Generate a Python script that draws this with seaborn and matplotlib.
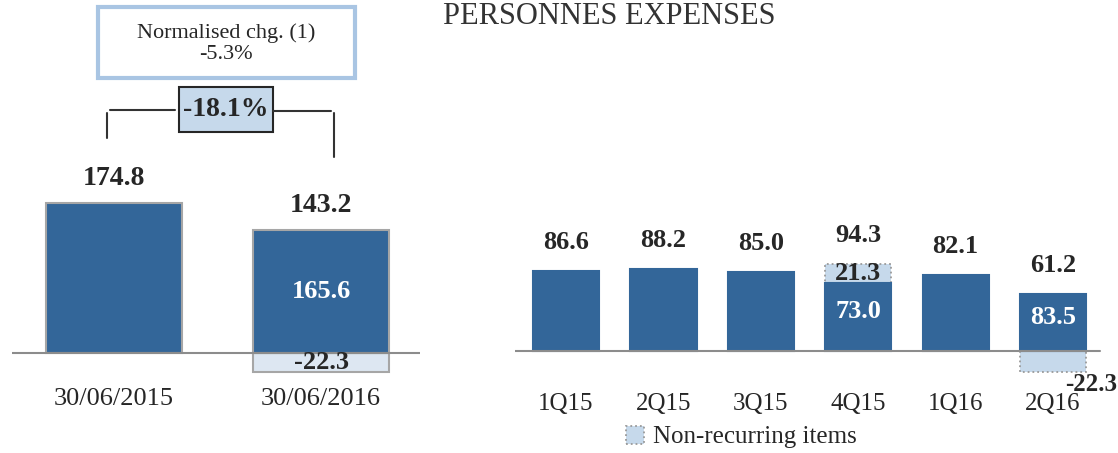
import matplotlib.pyplot as plt
import matplotlib.patches as mpatches
from matplotlib.lines import Line2D
import pandas as pd
import seaborn as sns

# half-year view
periods = ["30/06/2015", "30/06/2016"]
period_total = [174.8, 143.2]
period_recurring = [None, 165.6]
period_nonrec = [None, -22.3]

# quarterly view
quarters = ["1Q15", "2Q15", "3Q15", "4Q15", "1Q16", "2Q16"]
quarter_total = [86.6, 88.2, 85.0, 94.3, 82.1, 61.2]
quarter_recurring = [None, None, None, 73.0, None, 83.5]
quarter_nonrec = [None, None, None, 21.3, None, -22.3]

normalised_chg = "-5.3%"
reported_chg = "-18.1%"

DARK = "#336699"
LIGHT = "#C6D9EB"
LIGHT2 = "#DDE7F2"
TXT = "#262626"
W, H = 1118, 453

sns.set_style("white")
plt.rcParams["font.family"] = ["Liberation Serif", "DejaVu Serif"]

fig = plt.figure(figsize=(W / 100, H / 100), dpi=100)
axl = fig.add_axes([12 / W, 68 / H, 408 / W, 385 / H])
axr = fig.add_axes([515 / W, 68 / H, 603 / W, 385 / H])

# ---- left panel
dfl = pd.DataFrame({"period": periods, "total": period_total})
dfl_nr = pd.DataFrame({"period": periods, "nonrec": period_nonrec}).dropna()
sns.barplot(data=dfl_nr, x="period", y="nonrec", order=periods, color=LIGHT2,
            saturation=1, width=0.66, edgecolor="#A6A6A6", linewidth=1.5,
            errorbar=None, ax=axl)
sns.barplot(data=dfl, x="period", y="total", order=periods, color=DARK,
            saturation=1, width=0.66, edgecolor="#A6A6A6", linewidth=1.5,
            errorbar=None, ax=axl)
axl.set_xlim(-0.493, 1.478)
axl.set_ylim(-37.3, 411.4)
axl.axhline(0, color="#8C8C8C", lw=1.5, zorder=5)
for i, v in enumerate(period_total):
    axl.annotate(f"{v:.1f}", (i, v), xytext=(0, 13), textcoords="offset points",
                 ha="center", va="baseline", fontsize=20, fontweight="bold", color=TXT)
for i, (r, n) in enumerate(zip(period_recurring, period_nonrec)):
    if r is not None:
        axl.text(i, period_total[i] / 2, f"{r:.1f}", ha="center", va="center",
                 fontsize=19, fontweight="bold", color="white")
    if n is not None:
        axl.text(i, n / 2, f"{n:.1f}", ha="center", va="center",
                 fontsize=19, fontweight="bold", color=TXT, zorder=6)

# ---- right panel
dfr = pd.DataFrame({"quarter": quarters, "total": quarter_total,
                    "recurring": quarter_recurring, "nonrec": quarter_nonrec})
dark_h = [t if n is None or n < 0 else t - n for t, n in zip(quarter_total, quarter_nonrec)]
light_h = [None if n is None else (t if n > 0 else n) for t, n in zip(quarter_total, quarter_nonrec)]
dfr["dark"] = dark_h
dfr["light"] = light_h
sns.barplot(data=dfr.dropna(subset=["light"]), x="quarter", y="light", order=quarters,
            color=LIGHT, saturation=1, width=0.68, edgecolor="#9A9A9A",
            linewidth=1.3, linestyle=":", errorbar=None, ax=axr)
sns.barplot(data=dfr, x="quarter", y="dark", order=quarters, color=DARK,
            saturation=1, width=0.68, edgecolor=DARK, linewidth=1.5,
            errorbar=None, ax=axr)
axr.set_xlim(-0.524, 5.667)
axr.set_ylim(-36.8, 379.5)
axr.axhline(0, xmax=0.97, color="#8C8C8C", lw=1.5, zorder=5)
for i, v in enumerate(quarter_total):
    axr.annotate(f"{v:.1f}", (i, v), xytext=(0, 16), textcoords="offset points",
                 ha="center", va="baseline", fontsize=19, fontweight="bold", color=TXT)
for i, (r, n, d) in enumerate(zip(quarter_recurring, quarter_nonrec, dark_h)):
    if r is not None:
        axr.annotate(f"{r:.1f}", (i, d / 2), xytext=(0, 4), textcoords="offset points",
                     ha="center", va="center", fontsize=19, fontweight="bold", color="white")
    if n is not None and n > 0:
        axr.text(i, d + n / 2, f"{n:.1f}", ha="center", va="center",
                 fontsize=19, fontweight="bold", color=TXT)
    elif n is not None:
        axr.annotate(f"{n:.1f}", (0.998, n), xycoords=("axes fraction", "data"),
                     xytext=(0, -1), textcoords="offset points",
                     ha="right", va="top", fontsize=18, fontweight="bold", color=TXT)

for ax in (axl, axr):
    sns.despine(ax=ax, left=True, bottom=True)
    ax.set_yticks([])
    ax.set_xlabel("")
    ax.set_ylabel("")
    ax.tick_params(axis="x", length=0, labelcolor=TXT)
    ax.patch.set_alpha(0)
axl.tick_params(axis="x", labelsize=19, pad=2)
axr.tick_params(axis="x", labelsize=18, pad=6)

# ---- title, legend and change annotations
fig.text(443 / W, 1 - 16 / H, "PERSONNES EXPENSES", ha="left", va="center",
         fontsize=22, color="#333333")

legend_patch = mpatches.Patch(facecolor=LIGHT, edgecolor="#9A9A9A", linestyle=":", lw=1.3)
fig.legend(handles=[legend_patch], labels=["Non-recurring items"], loc="center left",
           bbox_to_anchor=(603 / W, 1 - 437 / H), frameon=False, fontsize=18,
           handlelength=0.75, handleheight=0.75, handletextpad=0.35, labelcolor=TXT)

fig.add_artist(mpatches.Rectangle((98 / W, 1 - 78 / H), 257 / W, 71 / H,
                                  transform=fig.transFigure, facecolor="white",
                                  edgecolor="#A9C5E3", lw=3))
fig.text(226 / W, 1 - 44 / H, f"Normalised chg. (1)\n{normalised_chg}", ha="center",
         va="center", fontsize=16, color=TXT, linespacing=1.15)

fig.add_artist(mpatches.Rectangle((179 / W, 1 - 132 / H), 94 / W, 45 / H,
                                  transform=fig.transFigure, facecolor=LIGHT,
                                  edgecolor=TXT, lw=1.5))
fig.text(226 / W, 1 - 110 / H, reported_chg, ha="center", va="center",
         fontsize=20, fontweight="bold", color=TXT)

for xs, ys in [((110, 175), (110, 110)), ((107, 107), (113, 138)),
               ((273, 331), (111, 111)), ((334, 334), (113, 157))]:
    fig.add_artist(Line2D([x / W for x in xs], [1 - y / H for y in ys],
                          transform=fig.transFigure, color="#333333", lw=1.5))

fig.savefig("out.png", dpi=100)
